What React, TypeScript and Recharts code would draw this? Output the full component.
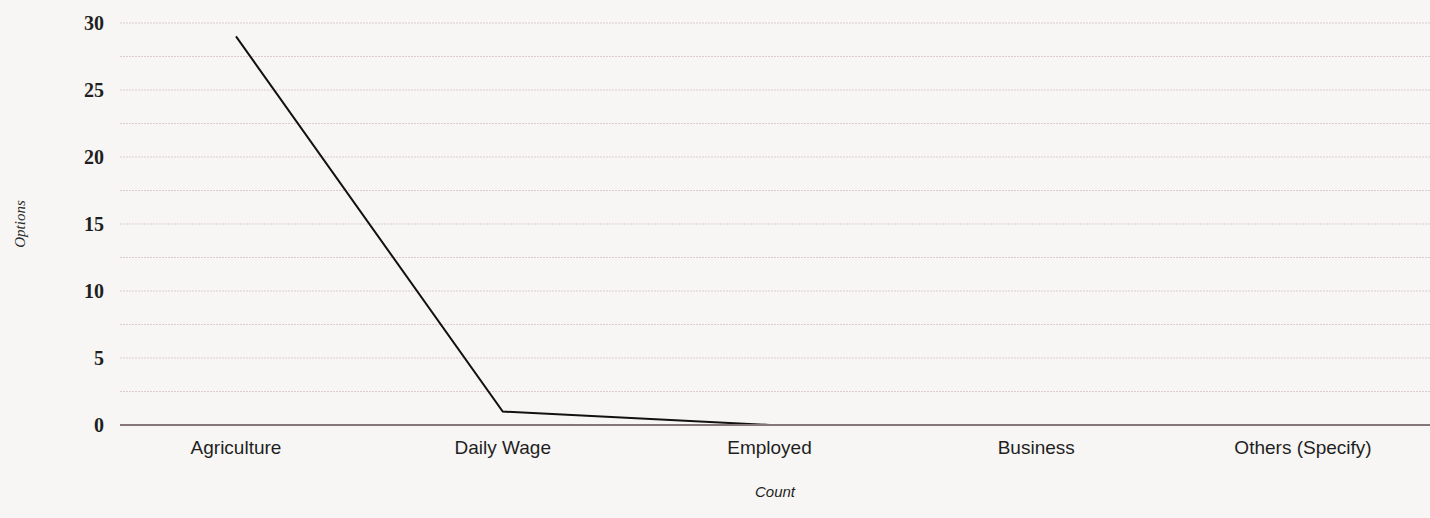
import { LineChart, Line, XAxis, YAxis, CartesianGrid, Label } from 'recharts'

const categories = ['Agriculture', 'Daily Wage', 'Employed', 'Business', 'Others (Specify)']
const counts = [29, 1, 0, 0, 0]
const yTicks = [0, 2.5, 5, 7.5, 10, 12.5, 15, 17.5, 20, 22.5, 25, 27.5, 30]

const data = categories.map((name, i) => ({ name, count: counts[i] }))

const sans = '"Liberation Sans", Arial, sans-serif'

export default function App() {
  return (
    <div style={{ position: 'absolute', left: 0, top: 0, width: 1430, height: 518, background: '#f7f6f4' }}>
      <LineChart width={1430} height={518} data={data} margin={{ top: 23, right: 0, left: 0, bottom: 21 }}>
        <CartesianGrid vertical={false} stroke="#dccbcf" strokeDasharray="2 1" />
        <XAxis
          dataKey="name"
          tickLine={false}
          axisLine={{ stroke: '#857679', strokeWidth: 2 }}
          tick={{ fill: '#1f1f1f', fontSize: 19, fontFamily: sans }}
          tickMargin={10}
          height={72}
          interval={0}
          padding={{ left: 116, right: 127 }}
        >
          <Label
            value="Count"
            position="insideBottom"
            offset={0}
            style={{ fill: '#1f1f1f', fontSize: 15, fontStyle: 'italic', fontFamily: sans }}
          />
        </XAxis>
        <YAxis
          domain={[0, 30]}
          ticks={yTicks}
          interval={0}
          tickFormatter={(v: number) => (v % 5 === 0 ? String(v) : '')}
          tickLine={false}
          axisLine={false}
          width={120}
          tickMargin={10}
          tick={{ fill: '#1f1f1f', fontSize: 20, fontWeight: 'bold', fontFamily: '"Liberation Serif", serif' }}
        >
          <Label
            value="Options"
            angle={-90}
            position="insideLeft"
            offset={20}
            style={{ fill: '#2a2a2a', fontSize: 15, fontStyle: 'italic', textAnchor: 'middle', fontFamily: '"Liberation Serif", serif' }}
          />
        </YAxis>
        <Line type="linear" dataKey="count" stroke="#111" strokeWidth={2} dot={false} isAnimationActive={false} />
      </LineChart>
    </div>
  )
}
